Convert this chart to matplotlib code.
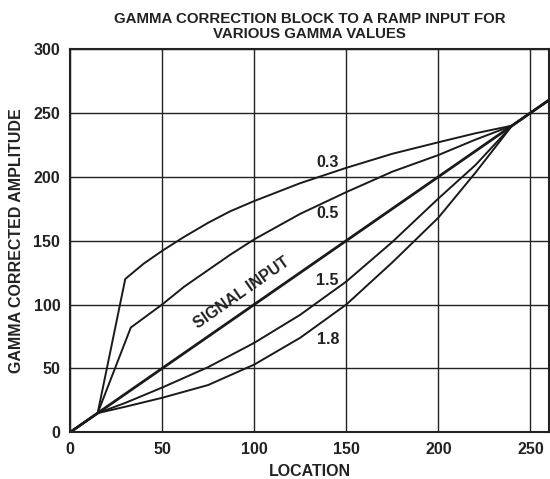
import matplotlib.pyplot as plt

plt.rcParams['font.family'] = ['Liberation Sans', 'DejaVu Sans']
plt.rcParams['font.weight'] = 'bold'

# ramp input and gamma corrected outputs (location, amplitude)
signal_x = [0, 260]
signal_y = [0, 260]

g03_x = [0, 15, 30, 40, 50, 62, 75, 87, 100, 125, 150, 175, 200, 220, 240, 260]
g03_y = [0, 15, 120, 132, 142, 153, 164, 173, 181, 195, 207, 218, 227, 234, 240, 260]

g05_x = [0, 15, 33, 50, 62, 75, 87, 100, 125, 150, 175, 200, 220, 240, 260]
g05_y = [0, 15, 82, 100, 114, 127, 139, 151, 171, 188, 204, 217, 229, 240, 260]

g15_x = [0, 15, 30, 50, 75, 100, 125, 150, 175, 200, 220, 240, 260]
g15_y = [0, 15, 23, 35, 51, 70, 92, 118, 149, 183, 209, 240, 260]

g18_x = [0, 15, 30, 50, 75, 100, 125, 150, 175, 200, 220, 240, 260]
g18_y = [0, 15, 20, 27, 37, 53, 74, 100, 133, 168, 203, 240, 260]

curve_labels = ['0.3', '0.5', '1.5', '1.8']
label_y = [211, 171, 119, 73]

fig = plt.figure(figsize=(5.5, 4.79), dpi=100)
ax = fig.add_axes([0.1273, 0.0975, 0.8707, 0.8002])

for xs, ys in [(g03_x, g03_y), (g05_x, g05_y), (g15_x, g15_y), (g18_x, g18_y)]:
    ax.plot(xs, ys, color='#1a1a1a', lw=1.4, solid_joinstyle='round')
ax.plot(signal_x, signal_y, color='#1a1a1a', lw=2.0)

for lab, ly in zip(curve_labels, label_y):
    ax.text(146, ly, lab, ha='right', va='center', fontsize=11.5, fontweight='bold',
            color='#222222')
ax.text(93, 109, 'SIGNAL INPUT', ha='center', va='center', rotation=35,
        rotation_mode='anchor', fontsize=11.5, fontweight='bold', color='#222222')

ax.set_xlim(0, 260)
ax.set_ylim(0, 300)
ax.set_xticks([0, 50, 100, 150, 200, 250])
ax.set_yticks([0, 50, 100, 150, 200, 250, 300])
ax.grid(True, color='#222222', lw=1.0)
ax.set_axisbelow(True)
ax.tick_params(length=0, labelsize=11.5, colors='#222222')
ax.tick_params(axis='x', pad=7)
ax.tick_params(axis='y', pad=7)
for lbl in ax.get_xticklabels() + ax.get_yticklabels():
    lbl.set_fontweight('bold')
for sp in ax.spines.values():
    sp.set_color('#222222')
    sp.set_linewidth(1.5)

ax.set_xlabel('LOCATION', fontsize=11.5, fontweight='bold', color='#222222', labelpad=5)
ax.set_ylabel('GAMMA CORRECTED AMPLITUDE', fontsize=11.5, fontweight='bold',
              color='#222222', labelpad=7)
ax.set_title('GAMMA CORRECTION BLOCK TO A RAMP INPUT FOR\nVARIOUS GAMMA VALUES',
             fontsize=10.8, fontweight='bold', color='#222222', linespacing=1.12, pad=8)

fig.savefig('out.png', dpi=100)
